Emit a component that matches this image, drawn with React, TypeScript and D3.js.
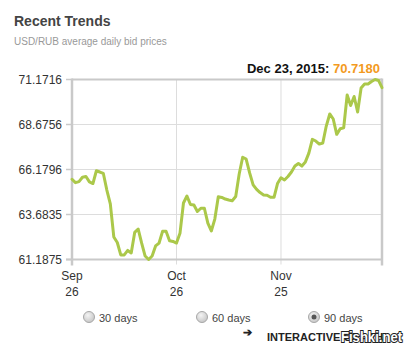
import React from "react";
import * as d3 from "d3";

const values: number[] = [
  65.64, 65.45, 65.51, 65.75, 65.79, 65.49, 65.40, 66.11, 66.04, 65.96,
  65.04, 64.27, 62.44, 62.13, 61.44, 61.44, 61.69, 61.55, 62.69, 62.88,
  62.09, 61.38, 61.19, 61.38, 61.94, 62.10, 62.75, 62.75, 62.23, 62.19,
  62.10, 62.64, 64.32, 64.71, 64.24, 64.21, 63.85, 64.03, 64.03, 63.21,
  62.77, 63.43, 64.67, 64.63, 64.54, 64.49, 64.45, 64.68, 65.93, 66.86,
  66.76, 65.99, 65.33, 65.08, 64.90, 64.77, 64.75, 64.64, 64.64, 65.40,
  65.72, 65.60, 65.79, 66.04, 66.37, 66.51, 66.37, 66.60, 67.09, 67.85,
  67.76, 67.59, 67.65, 68.59, 69.26, 68.98, 68.13, 68.44, 68.49, 70.31,
  69.73, 70.23, 69.37, 70.70, 70.92, 70.92, 71.06, 71.1716, 71.12, 70.718,
];
const yTicks: number[] = [61.1875, 63.6835, 66.1796, 68.6756, 71.1716];
const xTickDays: number[] = [0, 30, 60];
const xTickMonths: string[] = ["Sep", "Oct", "Nov"];
const xTickDates: string[] = ["26", "26", "25"];
const radioLabels: string[] = ["30 days", "60 days", "90 days"];
const lastDate = "Dec 23, 2015";
const lastValue = "70.7180";

export default function App() {
  const left = 72, right = 382, top = 79.5, bottom = 259.5;
  const x = d3.scaleLinear().domain([0, values.length - 1]).range([left, right]);
  const y = d3.scaleLinear().domain([yTicks[0], yTicks[yTicks.length - 1]]).range([bottom, top]);
  const line = d3.line<number>().x((_, i) => x(i)).y((d) => y(d));
  const font = "Arial, 'Liberation Sans', Helvetica, sans-serif";
  const radioX = [89, 202, 314];
  const axisColor = "#c9c9c9";
  const gridColor = "#dddddd";

  return (
    <svg width={407} height={352} style={{ position: "absolute", left: 0, top: 0 }} fontFamily={font}>
      <defs>
        <radialGradient id="rg" cx="0.4" cy="0.35" r="0.7">
          <stop offset="0" stopColor="#f4f4f4" />
          <stop offset="1" stopColor="#c4c4c4" />
        </radialGradient>
      </defs>
      <rect width={407} height={352} fill="#fff" />
      <text x={14} y={26} fontSize={14} fontWeight="bold" fill="#444">Recent Trends</text>
      <text x={14} y={45} fontSize={10} fill="#999">USD/RUB average daily bid prices</text>
      <text x={380} y={73} fontSize={13} fontWeight="bold" fill="#111" textAnchor="end">
        {lastDate}: <tspan fill="#f39a21">{lastValue}</tspan>
      </text>

      {yTicks.map((t, i) => (
        <g key={"y" + i}>
          <line x1={left} x2={right} y1={y(t)} y2={y(t)} stroke={gridColor} strokeWidth={1} />
          <line x1={left - 6} x2={left} y1={y(t)} y2={y(t)} stroke={axisColor} strokeWidth={1.5} />
          <text x={62} y={y(t) + 4.5} fontSize={12} fill="#333" textAnchor="end">{t.toFixed(4)}</text>
        </g>
      ))}
      {xTickDays.map((d, i) => (
        <g key={"x" + i}>
          <line x1={x(d)} x2={x(d)} y1={top} y2={bottom + 5} stroke={gridColor} strokeWidth={1} />
          <text x={x(d)} y={280} fontSize={12} fill="#333" textAnchor="middle">{xTickMonths[i]}</text>
          <text x={x(d)} y={296} fontSize={12} fill="#333" textAnchor="middle">{xTickDates[i]}</text>
        </g>
      ))}
      <line x1={left} x2={right} y1={top} y2={top} stroke={axisColor} strokeWidth={2} />
      <line x1={left - 6} x2={right + 1} y1={bottom} y2={bottom} stroke={axisColor} strokeWidth={2} />
      <line x1={left} x2={left} y1={top - 1} y2={bottom + 6} stroke={axisColor} strokeWidth={2.5} />
      <line x1={right} x2={right} y1={top - 1} y2={bottom + 6} stroke={axisColor} strokeWidth={2.5} />

      <path d={line(values) || ""} fill="none" stroke="#abc84a" strokeWidth={3} strokeLinejoin="round" strokeLinecap="round" />

      {radioLabels.map((r, i) => (
        <g key={"r" + i}>
          <circle cx={radioX[i]} cy={317} r={5.5} fill="url(#rg)" stroke="#a8a8a8" strokeWidth={1} />
          {i === 2 && <circle cx={radioX[i]} cy={317} r={2.5} fill="#555" />}
          <text x={radioX[i] + 10} y={321.5} fontSize={11} fill="#444">{r}</text>
        </g>
      ))}
      <text x={243} y={336} fontSize={11} fontWeight="bold" fill="#222">➔</text>
      <text x={267} y={341} fontSize={11} fontWeight="bold" fill="#222">INTERACTIVE GRAPH</text>
      <text x={341} y={342} fontSize={15} fontWeight="bold" fill="#fff" stroke="#222" strokeWidth={2}
        textLength={61} lengthAdjust="spacingAndGlyphs"
        style={{ paintOrder: "stroke" }}>Fishki.net</text>
    </svg>
  );
}
